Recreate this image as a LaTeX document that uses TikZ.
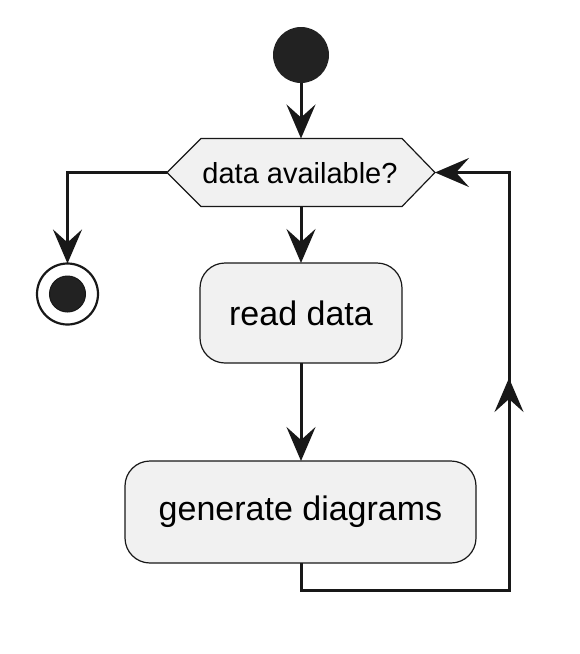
\documentclass[tikz,border=0pt]{standalone}
\usepackage{fontspec}
\setmainfont{Liberation Sans}
\usetikzlibrary{arrows.meta,calc}
\definecolor{boxfill}{HTML}{F1F1F1}
\definecolor{linec}{HTML}{181818}
\definecolor{dotc}{HTML}{222222}
\begin{document}
\begin{tikzpicture}[x=1pt,y=-1pt,
  tipstyle/.style={-{Stealth[length=34pt,width=29pt,inset=13pt]}},
  flow/.style={line width=3pt, draw=linec},
  activity/.style={draw=linec, fill=boxfill, line width=1.2pt, rounded corners=25pt,
    inner sep=0pt, outer sep=0pt, font=\fontsize{34}{40}\selectfont},
  decision/.style={inner sep=0pt, outer sep=0pt, minimum width=268pt, minimum height=68pt,
    font=\fontsize{29}{34}\selectfont}]
\useasboundingbox (0,0) rectangle (579,654);
% nodes
\node[circle, fill=dotc, minimum size=56pt, inner sep=0pt, outer sep=0pt] (start) at (301,55) {};
\node[decision] (dec) at (301,172.5) {};
\filldraw[draw=linec, fill=boxfill, line width=1.2pt]
  (dec.west) -- ($(dec.north west)+(34,0)$) -- ($(dec.north east)+(-33,0)$) -- (dec.east)
  -- ($(dec.south east)+(-33,0)$) -- ($(dec.south west)+(34,0)$) -- cycle;
\node[decision] (dectext) at (300,173) {data available?};
\node[circle, draw=linec, line width=2.2pt, fill=white, minimum size=61pt, inner sep=0pt, outer sep=0pt] (stop) at (67.5,294) {};
\node[circle, draw=linec, line width=1pt, fill=dotc, minimum size=36pt, inner sep=0pt] (stopdot) at (stop.center) {};
\node[activity, minimum width=202pt, minimum height=100pt] (read) at (301,313) {read data};
\node[activity, minimum width=351pt, minimum height=102pt] (gen) at (300.5,512) {generate diagrams};
% helper coordinates
\coordinate (l1) at (67.5,172.5);
\coordinate (c1) at (301,590);
\coordinate (c2) at (509,590);
\coordinate (c3) at (509,378);
\coordinate (c4) at (509,172.5);
% connectors
\draw[flow, tipstyle] (start) -- (start |- dec.north);
\draw[flow, tipstyle] (dec.south) -- (read.north);
\draw[flow, tipstyle] (read.south) -- (read.south |- gen.north);
\draw[flow, tipstyle] (dec.west) -- (l1) -- (stop.north);
\draw[flow] (gen.south -| c1) -- (c1) -- (c2) -- (c3);
\draw[flow, tipstyle] (c2) -- (c3);
\draw[flow, tipstyle] (c3) -- (c4) -- (dec.east);
\end{tikzpicture}
\end{document}
